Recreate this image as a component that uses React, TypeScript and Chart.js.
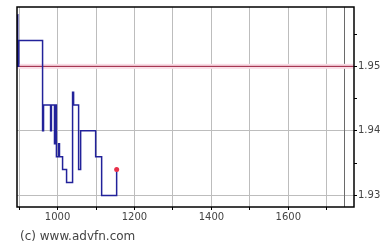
import React, { useEffect, useRef } from 'react';
import { Chart, registerables } from 'chart.js';

Chart.register(...registerables);

// trade times (HHMM-style numeric axis) and prices
const times = [895.8, 896.5, 899, 961, 963.5, 981.8, 984, 992, 995, 997, 1002.6, 1005, 1013, 1023.4, 1039, 1041.7, 1054.7, 1060, 1099, 1114.6, 1153.6];
const prices = [1.958, 1.95, 1.954, 1.94, 1.944, 1.94, 1.944, 1.938, 1.944, 1.936, 1.938, 1.936, 1.934, 1.932, 1.946, 1.944, 1.934, 1.94, 1.936, 1.93, 1.934];

const prevClose = 1.95;
const sessionEnd = 1745;
const xMin = 894.5;
const xMax = 1770.8;
const yMin = 1.9282;
const yMax = 1.9592;
const xLabelValues = [1000, 1200, 1400, 1600];
const yLabelValues = [1.93, 1.94, 1.95];
const credit = '(c) www.advfn.com';

const overlayPlugin = {
  id: 'overlay',
  beforeDatasetsDraw(chart: any) {
    const { ctx, chartArea, scales } = chart;
    const { left, right, top, bottom } = chartArea;
    ctx.save();
    const sx = scales.x.getPixelForValue(sessionEnd);
    ctx.strokeStyle = '#6a6a6a';
    ctx.lineWidth = 1;
    ctx.beginPath();
    ctx.moveTo(Math.round(sx) + 0.5, top);
    ctx.lineTo(Math.round(sx) + 0.5, bottom);
    ctx.stroke();
    const py = scales.y.getPixelForValue(prevClose);
    ctx.fillStyle = '#f9dde6';
    ctx.fillRect(left, py - 2.5, right - left, 5);
    ctx.strokeStyle = '#961a3a';
    ctx.lineWidth = 1;
    ctx.beginPath();
    ctx.moveTo(left, py);
    ctx.lineTo(right, py);
    ctx.stroke();
    ctx.restore();
  },
  afterDraw(chart: any) {
    const { ctx, chartArea } = chart;
    const { left, right, top, bottom } = chartArea;
    ctx.save();
    ctx.strokeStyle = '#000';
    ctx.lineWidth = 1.5;
    ctx.strokeRect(left, top, right - left, bottom - top);
    ctx.fillStyle = '#444';
    ctx.font = '12px "DejaVu Sans"';
    ctx.textBaseline = 'middle';
    ctx.textAlign = 'left';
    ctx.fillText(credit, 20, 237);
    ctx.restore();
  },
};

function isLabel(v: number, list: number[]) {
  return list.some((l) => Math.abs(l - v) < 1e-6);
}

export default function App() {
  const ref = useRef<HTMLCanvasElement | null>(null);
  useEffect(() => {
    document.body.style.margin = '0';
    const canvas = ref.current!;
    const chart = new Chart(canvas, {
      type: 'line',
      data: {
        datasets: [
          {
            data: times.map((t, i) => ({ x: t, y: prices[i] })),
            stepped: true,
            borderColor: '#22229a',
            borderWidth: 1.5,
            fill: false,
            pointRadius: (c: any) => (c.dataIndex === times.length - 1 ? 2.5 : 0),
            pointBackgroundColor: '#e8304a',
            pointBorderWidth: 0,
          } as any,
        ],
      },
      options: {
        animation: false,
        responsive: false,
        maintainAspectRatio: false,
        devicePixelRatio: 1,
        events: [],
        plugins: { legend: { display: false }, tooltip: { enabled: false } },
        layout: { padding: { left: 17, top: 4, right: 0, bottom: 0 } },
        scales: {
          x: {
            type: 'linear',
            position: 'bottom',
            min: xMin,
            max: xMax,
            afterFit: (s: any) => {
              s.height = 36;
            },
            border: { display: false },
            grid: { color: '#bdbdbd', lineWidth: 1, drawTicks: true, tickLength: 3, tickColor: '#000' },
            ticks: {
              stepSize: 100,
              includeBounds: false,
              autoSkip: false,
              maxRotation: 0,
              padding: 1.5,
              color: '#444',
              font: { family: 'DejaVu Sans', size: 10 },
              callback: (v: any) => (isLabel(Number(v), xLabelValues) ? String(v) : ''),
            },
          },
          y: {
            type: 'linear',
            position: 'right',
            min: yMin,
            max: yMax,
            afterFit: (s: any) => {
              s.width = 35;
            },
            border: { display: false },
            grid: {
              color: (c: any) => (c.tick && isLabel(c.tick.value, yLabelValues) ? '#bdbdbd' : 'rgba(0,0,0,0)'),
              lineWidth: 1,
              drawTicks: true,
              tickLength: 3,
              tickColor: '#000',
            },
            ticks: {
              stepSize: 0.005,
              includeBounds: false,
              autoSkip: false,
              padding: 1,
              color: '#444',
              font: { family: 'DejaVu Sans', size: 10 },
              callback: (v: any) => (isLabel(Number(v), yLabelValues) ? Number(v).toFixed(2) : ''),
            },
          },
        },
      } as any,
      plugins: [overlayPlugin],
    });
    return () => chart.destroy();
  }, []);
  return (
    <div style={{ position: 'absolute', left: 0, top: 0, width: 389, height: 243, background: '#fff' }}>
      <canvas ref={ref} width={389} height={243} style={{ width: 389, height: 243, display: 'block' }} />
    </div>
  );
}
